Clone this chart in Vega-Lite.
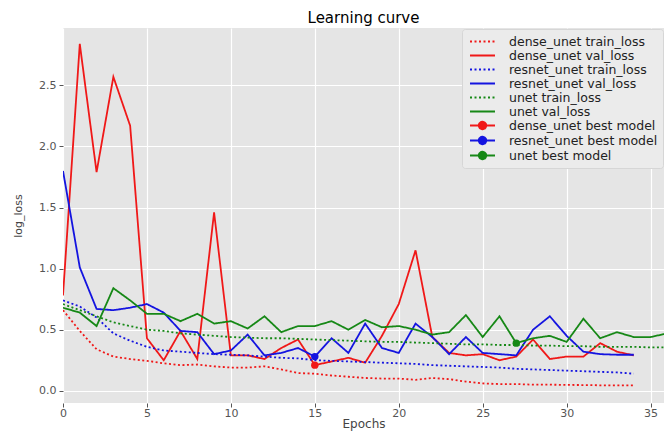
{
  "$schema": "https://vega.github.io/schema/vega-lite/v6.json",
  "autosize": {"type": "none"},
  "padding": {"left": 63, "top": 28, "right": 0, "bottom": 29},
  "width": 601,
  "height": 375,
  "background": "#FFFFFF",
  "title": {"text": "Learning curve", "fontSize": 15, "fontWeight": "normal", "color": "#000000", "font": "DejaVu Sans", "anchor": "middle", "offset": 2},
  "datasets": {
    "curves": [
      {"epoch": 0, "dense_unet train_loss": 0.66, "dense_unet val_loss": 0.78, "resnet_unet train_loss": 0.74, "resnet_unet val_loss": 1.80, "unet train_loss": 0.71, "unet val_loss": 0.68},
      {"epoch": 1, "dense_unet train_loss": 0.49, "dense_unet val_loss": 2.84, "resnet_unet train_loss": 0.69, "resnet_unet val_loss": 1.01, "unet train_loss": 0.66, "unet val_loss": 0.64},
      {"epoch": 2, "dense_unet train_loss": 0.34, "dense_unet val_loss": 1.79, "resnet_unet train_loss": 0.60, "resnet_unet val_loss": 0.67, "unet train_loss": 0.61, "unet val_loss": 0.53},
      {"epoch": 3, "dense_unet train_loss": 0.28, "dense_unet val_loss": 2.57, "resnet_unet train_loss": 0.47, "resnet_unet val_loss": 0.66, "unet train_loss": 0.56, "unet val_loss": 0.84},
      {"epoch": 4, "dense_unet train_loss": 0.26, "dense_unet val_loss": 2.17, "resnet_unet train_loss": 0.41, "resnet_unet val_loss": 0.68, "unet train_loss": 0.53, "unet val_loss": 0.74},
      {"epoch": 5, "dense_unet train_loss": 0.245, "dense_unet val_loss": 0.43, "resnet_unet train_loss": 0.36, "resnet_unet val_loss": 0.71, "unet train_loss": 0.50, "unet val_loss": 0.63},
      {"epoch": 6, "dense_unet train_loss": 0.225, "dense_unet val_loss": 0.25, "resnet_unet train_loss": 0.33, "resnet_unet val_loss": 0.64, "unet train_loss": 0.49, "unet val_loss": 0.63},
      {"epoch": 7, "dense_unet train_loss": 0.21, "dense_unet val_loss": 0.49, "resnet_unet train_loss": 0.32, "resnet_unet val_loss": 0.49, "unet train_loss": 0.47, "unet val_loss": 0.57},
      {"epoch": 8, "dense_unet train_loss": 0.215, "dense_unet val_loss": 0.26, "resnet_unet train_loss": 0.31, "resnet_unet val_loss": 0.48, "unet train_loss": 0.46, "unet val_loss": 0.63},
      {"epoch": 9, "dense_unet train_loss": 0.20, "dense_unet val_loss": 1.46, "resnet_unet train_loss": 0.30, "resnet_unet val_loss": 0.30, "unet train_loss": 0.45, "unet val_loss": 0.55},
      {"epoch": 10, "dense_unet train_loss": 0.19, "dense_unet val_loss": 0.29, "resnet_unet train_loss": 0.295, "resnet_unet val_loss": 0.33, "unet train_loss": 0.44, "unet val_loss": 0.57},
      {"epoch": 11, "dense_unet train_loss": 0.19, "dense_unet val_loss": 0.29, "resnet_unet train_loss": 0.29, "resnet_unet val_loss": 0.46, "unet train_loss": 0.435, "unet val_loss": 0.51},
      {"epoch": 12, "dense_unet train_loss": 0.20, "dense_unet val_loss": 0.26, "resnet_unet train_loss": 0.28, "resnet_unet val_loss": 0.29, "unet train_loss": 0.43, "unet val_loss": 0.61},
      {"epoch": 13, "dense_unet train_loss": 0.175, "dense_unet val_loss": 0.35, "resnet_unet train_loss": 0.27, "resnet_unet val_loss": 0.31, "unet train_loss": 0.43, "unet val_loss": 0.48},
      {"epoch": 14, "dense_unet train_loss": 0.145, "dense_unet val_loss": 0.42, "resnet_unet train_loss": 0.265, "resnet_unet val_loss": 0.35, "unet train_loss": 0.425, "unet val_loss": 0.53},
      {"epoch": 15, "dense_unet train_loss": 0.14, "dense_unet val_loss": 0.21, "resnet_unet train_loss": 0.25, "resnet_unet val_loss": 0.28, "unet train_loss": 0.42, "unet val_loss": 0.53},
      {"epoch": 16, "dense_unet train_loss": 0.125, "dense_unet val_loss": 0.24, "resnet_unet train_loss": 0.245, "resnet_unet val_loss": 0.43, "unet train_loss": 0.415, "unet val_loss": 0.57},
      {"epoch": 17, "dense_unet train_loss": 0.115, "dense_unet val_loss": 0.27, "resnet_unet train_loss": 0.24, "resnet_unet val_loss": 0.31, "unet train_loss": 0.41, "unet val_loss": 0.50},
      {"epoch": 18, "dense_unet train_loss": 0.105, "dense_unet val_loss": 0.23, "resnet_unet train_loss": 0.235, "resnet_unet val_loss": 0.55, "unet train_loss": 0.405, "unet val_loss": 0.58},
      {"epoch": 19, "dense_unet train_loss": 0.10, "dense_unet val_loss": 0.45, "resnet_unet train_loss": 0.23, "resnet_unet val_loss": 0.35, "unet train_loss": 0.40, "unet val_loss": 0.52},
      {"epoch": 20, "dense_unet train_loss": 0.10, "dense_unet val_loss": 0.71, "resnet_unet train_loss": 0.225, "resnet_unet val_loss": 0.31, "unet train_loss": 0.40, "unet val_loss": 0.53},
      {"epoch": 21, "dense_unet train_loss": 0.09, "dense_unet val_loss": 1.15, "resnet_unet train_loss": 0.22, "resnet_unet val_loss": 0.55, "unet train_loss": 0.395, "unet val_loss": 0.50},
      {"epoch": 22, "dense_unet train_loss": 0.105, "dense_unet val_loss": 0.44, "resnet_unet train_loss": 0.21, "resnet_unet val_loss": 0.44, "unet train_loss": 0.39, "unet val_loss": 0.46},
      {"epoch": 23, "dense_unet train_loss": 0.095, "dense_unet val_loss": 0.31, "resnet_unet train_loss": 0.205, "resnet_unet val_loss": 0.30, "unet train_loss": 0.385, "unet val_loss": 0.48},
      {"epoch": 24, "dense_unet train_loss": 0.075, "dense_unet val_loss": 0.29, "resnet_unet train_loss": 0.20, "resnet_unet val_loss": 0.44, "unet train_loss": 0.38, "unet val_loss": 0.62},
      {"epoch": 25, "dense_unet train_loss": 0.06, "dense_unet val_loss": 0.30, "resnet_unet train_loss": 0.195, "resnet_unet val_loss": 0.31, "unet train_loss": 0.38, "unet val_loss": 0.44},
      {"epoch": 26, "dense_unet train_loss": 0.055, "dense_unet val_loss": 0.25, "resnet_unet train_loss": 0.19, "resnet_unet val_loss": 0.30, "unet train_loss": 0.375, "unet val_loss": 0.61},
      {"epoch": 27, "dense_unet train_loss": 0.055, "dense_unet val_loss": 0.28, "resnet_unet train_loss": 0.18, "resnet_unet val_loss": 0.29, "unet train_loss": 0.375, "unet val_loss": 0.39},
      {"epoch": 28, "dense_unet train_loss": 0.05, "dense_unet val_loss": 0.42, "resnet_unet train_loss": 0.175, "resnet_unet val_loss": 0.50, "unet train_loss": 0.37, "unet val_loss": 0.43},
      {"epoch": 29, "dense_unet train_loss": 0.05, "dense_unet val_loss": 0.26, "resnet_unet train_loss": 0.17, "resnet_unet val_loss": 0.61, "unet train_loss": 0.37, "unet val_loss": 0.45},
      {"epoch": 30, "dense_unet train_loss": 0.048, "dense_unet val_loss": 0.28, "resnet_unet train_loss": 0.165, "resnet_unet val_loss": 0.45, "unet train_loss": 0.365, "unet val_loss": 0.40},
      {"epoch": 31, "dense_unet train_loss": 0.047, "dense_unet val_loss": 0.28, "resnet_unet train_loss": 0.16, "resnet_unet val_loss": 0.32, "unet train_loss": 0.365, "unet val_loss": 0.59},
      {"epoch": 32, "dense_unet train_loss": 0.045, "dense_unet val_loss": 0.39, "resnet_unet train_loss": 0.155, "resnet_unet val_loss": 0.30, "unet train_loss": 0.36, "unet val_loss": 0.43},
      {"epoch": 33, "dense_unet train_loss": 0.045, "dense_unet val_loss": 0.32, "resnet_unet train_loss": 0.15, "resnet_unet val_loss": 0.295, "unet train_loss": 0.36, "unet val_loss": 0.48},
      {"epoch": 34, "dense_unet train_loss": 0.045, "dense_unet val_loss": 0.29, "resnet_unet train_loss": 0.14, "resnet_unet val_loss": 0.295, "unet train_loss": 0.36, "unet val_loss": 0.44},
      {"epoch": 35, "unet train_loss": 0.355, "unet val_loss": 0.44},
      {"epoch": 36, "unet train_loss": 0.355, "unet val_loss": 0.47}
    ],
    "best": [
      {"epoch": 15, "loss": 0.21, "series": "dense_unet best model"},
      {"epoch": 15, "loss": 0.28, "series": "resnet_unet best model"},
      {"epoch": 27, "loss": 0.39, "series": "unet best model"}
    ]
  },
  "layer": [
    {
      "data": {"name": "curves"},
      "transform": [
        {"fold": ["dense_unet train_loss", "dense_unet val_loss", "resnet_unet train_loss", "resnet_unet val_loss", "unet train_loss", "unet val_loss"], "as": ["series", "loss"]},
        {"filter": "isValid(datum.loss)"}
      ],
      "mark": {"type": "line", "clip": true, "strokeWidth": 1.8},
      "encoding": {
        "x": {"field": "epoch", "type": "quantitative"},
        "y": {"field": "loss", "type": "quantitative"},
        "color": {"field": "series", "type": "nominal"},
        "strokeDash": {
          "field": "series", "type": "nominal", "legend": null,
          "scale": {
            "domain": ["dense_unet train_loss", "dense_unet val_loss", "resnet_unet train_loss", "resnet_unet val_loss", "unet train_loss", "unet val_loss"],
            "range": [[2, 2.5], [1, 0], [2, 2.5], [1, 0], [2, 2.5], [1, 0]]
          }
        }
      }
    },
    {
      "data": {"name": "best"},
      "mark": {"type": "point", "filled": true, "opacity": 1, "size": 55, "clip": true},
      "encoding": {
        "x": {"field": "epoch", "type": "quantitative"},
        "y": {"field": "loss", "type": "quantitative"},
        "color": {"field": "series", "type": "nominal"}
      }
    }
  ],
  "resolve": {"scale": {"color": "shared"}},
  "encoding": {
    "x": {
      "field": "epoch", "type": "quantitative",
      "scale": {"domain": [0, 35.8], "nice": false, "zero": false},
      "axis": {"values": [0, 5, 10, 15, 20, 25, 30, 35], "title": "Epochs", "titleFontSize": 12, "labelPadding": 0, "titlePadding": 0, "labelFlush": false}
    },
    "y": {
      "field": "loss", "type": "quantitative",
      "scale": {"domain": [-0.1, 2.97], "nice": false, "zero": false},
      "axis": {"values": [0, 0.5, 1, 1.5, 2, 2.5], "format": ".1f", "title": "log_loss", "titleFontSize": 11, "labelPadding": 3, "titlePadding": 15, "labelFlush": false}
    },
    "color": {
      "field": "series", "type": "nominal",
      "scale": {
        "domain": ["dense_unet train_loss", "dense_unet val_loss", "resnet_unet train_loss", "resnet_unet val_loss", "unet train_loss", "unet val_loss", "dense_unet best model", "resnet_unet best model", "unet best model"],
        "range": ["#f01818", "#f01818", "#1414e0", "#1414e0", "#168816", "#168816", "#f01818", "#1414e0", "#168816"]
      },
      "legend": {
        "title": null,
        "orient": "top-right",
        "offset": 1,
        "padding": 5,
        "fillColor": "#EBEBEB",
        "strokeColor": "#D6D6D6",
        "cornerRadius": 3,
        "symbolSize": 156,
        "symbolOffset": 8,
        "symbolStrokeWidth": 1.8,
        "labelOffset": 19,
        "labelFontSize": 12.5,
        "labelFont": "DejaVu Sans",
        "labelColor": "#222222",
        "rowPadding": -2.8,
        "labelExpr": "test(/^unet/, datum.value) ? '\u00a0' + datum.value : datum.value",
        "encode": {
          "symbols": {
            "update": {
              "shape": {"signal": "test(/best/, datum.value) ? 'M-2,0L2,0M0.6,0A0.6,0.6,0,1,1,-0.6,0A0.6,0.6,0,1,1,0.6,0Z' : 'M-2,0L2,0'"},
              "strokeDash": {"signal": "test(/train/, datum.value) ? [2, 2.5] : [1, 0]"},
              "fill": {"signal": "test(/best/, datum.value) ? scale('color', datum.value) : 'transparent'"},
              "stroke": {"signal": "scale('color', datum.value)"},
              "strokeWidth": {"value": 1.8},
              "opacity": {"value": 1}
            }
          }
        }
      }
    }
  },
  "config": {
    "font": "DejaVu Sans",
    "view": {"fill": "#E5E5E5", "stroke": null},
    "axis": {
      "grid": true, "gridColor": "#FFFFFF", "gridWidth": 1.2, "gridOpacity": 1,
      "domain": false, "ticks": true, "tickColor": "#555555", "tickSize": 4,
      "labelColor": "#555555", "labelFont": "DejaVu Sans", "labelFontSize": 11,
      "titleFont": "DejaVu Sans", "titleFontWeight": "normal", "titleColor": "#444444"
    }
  }
}
